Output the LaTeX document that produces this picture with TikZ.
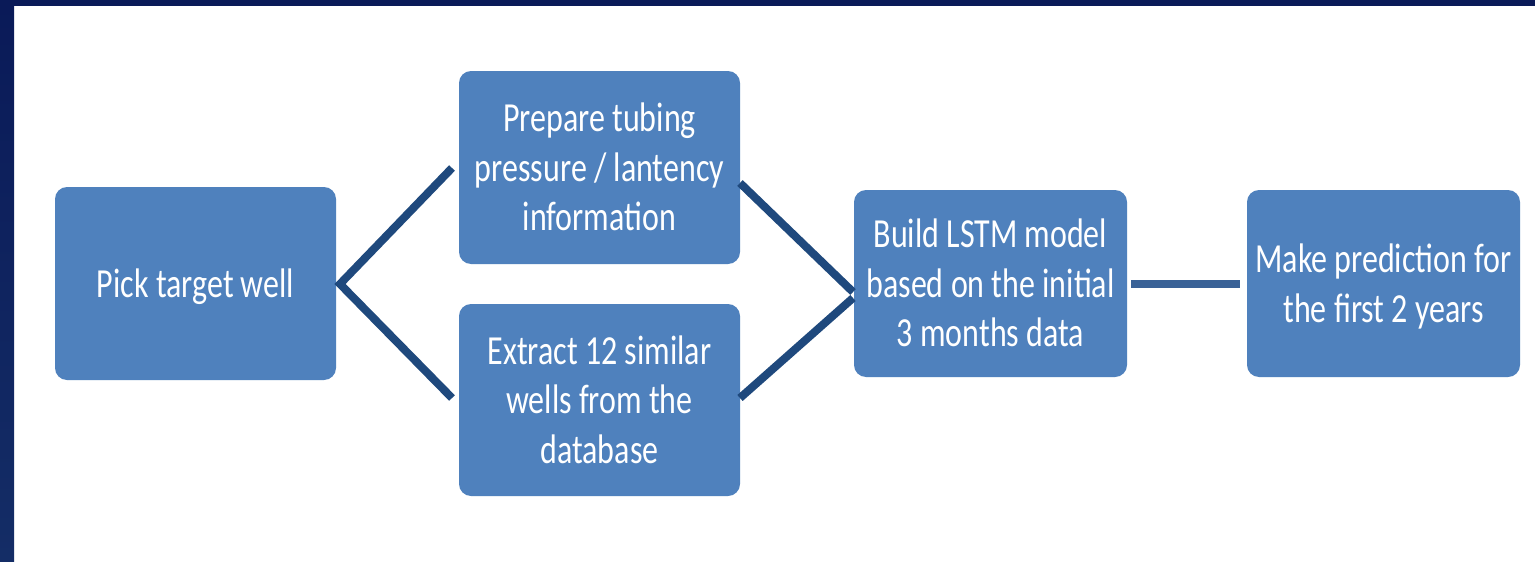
\documentclass[tikz,border=0pt]{standalone}
\usepackage{fontspec}
\setmainfont{Carlito}
\usepackage{graphicx}
\definecolor{boxblue}{HTML}{4F81BD}
\definecolor{linkblue}{HTML}{1F497D}
\definecolor{flatblue}{HTML}{3A6297}
\definecolor{navytop}{HTML}{0A1A58}
\definecolor{navybot}{HTML}{142D66}
% label text: slightly condensed, nudged down while keeping its box size
\newcommand{\steptext}[1]{\raisebox{-4pt}[\height][\depth]{\scalebox{0.79}[1.02]{\begin{tabular}{@{}c@{}}#1\end{tabular}}}}
\tikzset{
  stepbox/.style={fill=boxblue, rounded corners=12pt, inner sep=0pt,
    text=white, font=\fontsize{40.5}{48.5}\selectfont,
    minimum width=281pt, minimum height=193pt},
  link/.style={draw=linkblue, line width=8pt},
  flatlink/.style={draw=flatblue, line width=8pt}
}
\begin{document}
\begin{tikzpicture}[x=1pt, y=-1pt]
  % page frame: navy bands along the top and the left edge
  \useasboundingbox (0,0) rectangle (1535,562);
  \fill[white] (0,0) rectangle (1535,562);
  \fill[navytop] (0,0) rectangle (1535,6);
  \shade[top color=navytop, bottom color=navybot] (0,0) rectangle (14,562);

  % process steps
  \node[stepbox] (pick) at (195.5,283.5) {\steptext{Pick target well}};
  \node[stepbox] (prep) at (599.5,167.5) {\steptext{Prepare tubing\\pressure / lantency\\information}};
  \node[stepbox, minimum height=192pt] (extr) at (599.5,400) {\steptext{Extract 12 similar\\wells from the\\database}};
  \node[stepbox, minimum width=273pt, minimum height=187pt] (build) at (990.5,283.5) {\steptext{Build LSTM model\\based on the initial\\3 months data}};
  \node[stepbox, minimum width=273pt, minimum height=187pt] (make) at (1383.5,283.5) {\steptext{Make prediction for\\the first 2 years}};

  % branching connectors
  \coordinate (fork) at (340,284);
  \coordinate (toprep) at (452,168);
  \coordinate (toextr) at (452,398);
  \coordinate (fromprep) at (740,183);
  \coordinate (fromextr) at (740,398);
  \coordinate (joinA) at (853,292);
  \coordinate (joinB) at (853,298);
  \draw[link, line join=miter] (toprep) -- (fork) -- (toextr);
  \draw[link] (fromprep) -- (joinA);
  \draw[link] (fromextr) -- (joinB);
  \draw[flatlink, shorten <=4pt, shorten >=7pt] (build.east) -- (make.west);
\end{tikzpicture}
\end{document}
